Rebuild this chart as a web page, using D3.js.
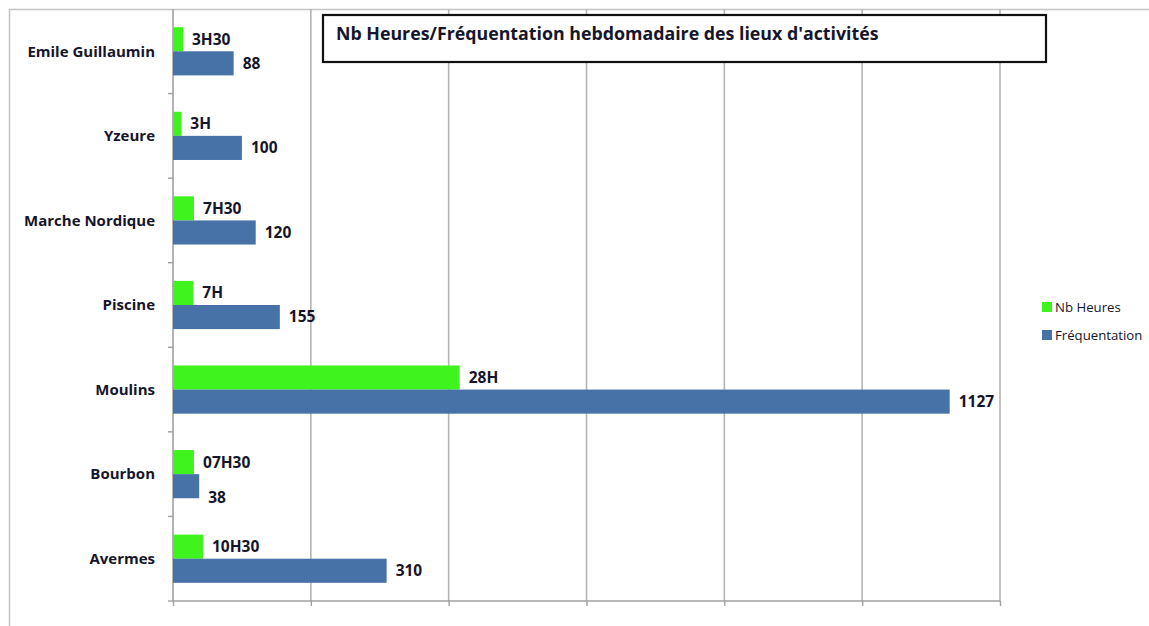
<!DOCTYPE html>
<html>
<head>
<meta charset="utf-8">
<script src="https://cdn.jsdelivr.net/npm/d3@7"></script>
<style>
  body { margin: 0; background: #fff; }
  text { font-family: "Open Sans", "Noto Sans", sans-serif; fill: #15152b; }
</style>
</head>
<body>
<div class="container"></div>
<script>
var width = 1149;
var height = 626;
var margin = {top: 9, right: 149, bottom: 25, left: 173};

var categories = ["Emile Guillaumin", "Yzeure", "Marche Nordique", "Piscine", "Moulins", "Bourbon", "Avermes"];
var frequentation = [88, 100, 120, 155, 1127, 38, 310];
// green bars as drawn on the shared axis, with their own text labels
var heures = [14.5, 12, 30.5, 29.5, 416, 30.5, 43.5];
var heuresLabels = ["3H30", "3H", "7H30", "7H", "28H", "07H30", "10H30"];
var xTicks = [0, 200, 400, 600, 800, 1000, 1200];
var seriesNames = ["Nb Heures", "Fréquentation"];
var colors = ["#3ff41d", "#4672a7"];
var title = "Nb Heures/Fréquentation hebdomadaire des lieux d'activités";

var svg = d3.select(".container")
  .append("svg")
  .attr("width", width)
  .attr("height", height);

// outer frame (cropped)
svg.append("rect")
  .attr("x", 9.5).attr("y", 9.5)
  .attr("width", width + 20).attr("height", height + 20)
  .attr("fill", "none")
  .attr("stroke", "#c4c4c4")
  .attr("stroke-width", 1.5);

//-----------------------------------------
// SCALES
var xScale = d3.scaleLinear()
  .domain([0, 1200])
  .range([margin.left, width - margin.right]);
var yScale = d3.scaleBand()
  .domain(categories)
  .range([margin.top, height - margin.bottom])
  .paddingInner(0.43)
  .paddingOuter(0.215);
var sub = d3.scaleBand()
  .domain(seriesNames)
  .range([0, yScale.bandwidth()]);

//-----------------------------------------
// GRID & AXES
svg.append("g")
  .selectAll("line")
  .data(xTicks.slice(1))
  .enter()
  .append("line")
  .attr("x1", d => xScale(d)).attr("x2", d => xScale(d))
  .attr("y1", margin.top).attr("y2", height - margin.bottom)
  .attr("stroke", "#b4b4b4")
  .attr("stroke-width", 1.6);

var xAxis = d3.axisBottom(xScale).tickValues(xTicks).tickSize(5).tickFormat("");
var gx = svg.append("g")
  .attr("transform", "translate(0," + (height - margin.bottom) + ")")
  .call(xAxis);
gx.select(".domain").attr("stroke", "#a0a0a0").attr("stroke-width", 1.6)
  .attr("d", "M" + xScale(0) + ",0H" + xScale(1200));
gx.selectAll(".tick line").attr("stroke", "#a0a0a0").attr("stroke-width", 1.4);

// y axis line with ticks at band boundaries
var bounds = d3.range(categories.length + 1).map(i => margin.top + i * (height - margin.bottom - margin.top) / categories.length);
svg.append("line")
  .attr("x1", xScale(0)).attr("x2", xScale(0))
  .attr("y1", margin.top).attr("y2", height - margin.bottom)
  .attr("stroke", "#a0a0a0").attr("stroke-width", 1.6);
svg.append("g")
  .selectAll("line")
  .data(bounds.slice(1))
  .enter()
  .append("line")
  .attr("x1", xScale(0) - 5).attr("x2", xScale(0))
  .attr("y1", d => d).attr("y2", d => d)
  .attr("stroke", "#a0a0a0").attr("stroke-width", 1.4);

svg.append("g")
  .selectAll("text")
  .data(categories)
  .enter()
  .append("text")
  .attr("x", xScale(0) - 18)
  .attr("y", d => yScale(d) + yScale.bandwidth() / 2)
  .attr("dy", "0.35em")
  .attr("text-anchor", "end")
  .attr("font-size", 15)
  .attr("font-weight", 700)
  .text(d => d);

//-----------------------------------------
// BARS
var rows = categories.map((c, i) => ({cat: c, h: heures[i], hl: heuresLabels[i], f: frequentation[i]}));

svg.append("g").selectAll("rect")
  .data(rows).enter().append("rect")
  .attr("x", xScale(0))
  .attr("y", d => yScale(d.cat) + sub(seriesNames[0]))
  .attr("width", d => xScale(d.h) - xScale(0))
  .attr("height", sub.bandwidth())
  .attr("fill", colors[0]);

svg.append("g").selectAll("rect")
  .data(rows).enter().append("rect")
  .attr("x", xScale(0))
  .attr("y", d => yScale(d.cat) + sub(seriesNames[1]))
  .attr("width", d => xScale(d.f) - xScale(0))
  .attr("height", sub.bandwidth())
  .attr("fill", colors[1]);

// labels
var hLabels = svg.append("g").selectAll("text")
  .data(rows).enter().append("text")
  .attr("x", d => xScale(d.h) + 9)
  .attr("y", d => yScale(d.cat) + sub(seriesNames[0]) + sub.bandwidth() / 2)
  .attr("dy", "0.35em")
  .attr("font-size", 15.5)
  .attr("font-weight", 700)
  .text(d => d.hl);

var hEnds = [];
hLabels.each(function(d, i) { hEnds[i] = this.getBBox().x + this.getBBox().width; });

svg.append("g").selectAll("text")
  .data(rows).enter().append("text")
  .attr("x", d => xScale(d.f) + 9)
  .attr("y", (d, i) => yScale(d.cat) + sub(seriesNames[1]) + sub.bandwidth() / 2 +
    (xScale(d.f) + 9 < hEnds[i] ? 11 : 0))
  .attr("dy", "0.35em")
  .attr("font-size", 15.5)
  .attr("font-weight", 700)
  .text(d => d.f);

//-----------------------------------------
// TITLE BOX
svg.append("rect")
  .attr("x", 323).attr("y", 15)
  .attr("width", 723).attr("height", 47)
  .attr("fill", "#fff")
  .attr("stroke", "#111")
  .attr("stroke-width", 2.2);
svg.append("text")
  .attr("x", 336).attr("y", 34)
  .attr("dy", "0.35em")
  .attr("font-size", 17.8)
  .attr("font-weight", 700)
  .text(title);

//-----------------------------------------
// LEGEND
var legend = svg.append("g").selectAll("g")
  .data(seriesNames).enter().append("g")
  .attr("transform", (d, i) => "translate(1042," + (302 + i * 28) + ")");
legend.append("rect")
  .attr("width", 10).attr("height", 10)
  .attr("fill", (d, i) => colors[i]);
legend.append("text")
  .attr("x", 13).attr("y", 5)
  .attr("dy", "0.35em")
  .attr("font-size", 13.2)
  .text(d => d);
</script>
</body>
</html>
